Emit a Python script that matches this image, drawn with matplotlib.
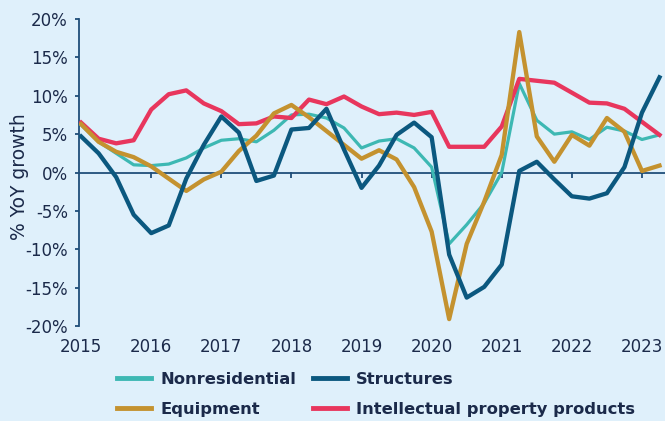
import matplotlib
matplotlib.use("Agg")
import matplotlib.pyplot as plt
from matplotlib.lines import Line2D

# Quarterly, 2015Q1 .. 2023Q2
start_year = 2015
n_quarters = 34
quarters = [start_year + i / 4 for i in range(n_quarters)]

nonresidential = [6.2, 4.0, 2.5, 1.0, 0.9, 1.1, 1.9, 3.2, 4.2, 4.4, 4.0, 5.5,
                  7.5, 7.6, 7.1, 5.8, 3.2, 4.1, 4.4, 3.2, 0.7, -9.3, -6.8, -4.0,
                  0.0, 11.6, 6.8, 5.0, 5.3, 4.3, 5.9, 5.4, 4.3, 4.9]
structures = [4.7, 2.5, -0.6, -5.5, -7.9, -6.9, -0.8, 3.6, 7.3, 5.2, -1.1, -0.4,
              5.6, 5.8, 8.3, 3.0, -2.0, 0.9, 4.9, 6.5, 4.6, -10.7, -16.3, -14.9,
              -12.0, 0.2, 1.4, -0.9, -3.1, -3.4, -2.7, 0.7, 7.8, 12.4]
equipment = [6.3, 4.0, 2.7, 2.0, 0.8, -0.8, -2.4, -0.9, 0.1, 2.8, 4.8, 7.7,
             8.8, 7.2, 5.4, 3.6, 1.8, 2.9, 1.7, -1.9, -7.7, -19.1, -9.3, -3.8,
             2.3, 18.3, 4.7, 1.4, 4.9, 3.5, 7.1, 5.3, 0.2, 0.9]
ipp = [6.5, 4.4, 3.8, 4.2, 8.2, 10.2, 10.7, 9.0, 8.0, 6.3, 6.4, 7.3,
       7.1, 9.5, 8.9, 9.9, 8.6, 7.6, 7.8, 7.5, 7.9, 3.35, 3.35, 3.35,
       6.0, 12.2, 11.95, 11.7, 10.4, 9.1, 9.0, 8.3, 6.6, 4.9]

year_ticks = list(range(2015, 2024))
y_ticks = [-20, -15, -10, -5, 0, 5, 10, 15, 20]

BG = "#DFF0FB"
TEXT = "#1B2A4A"
AXIS = "#1F4E79"
C_TEAL = "#3DB8B3"
C_NAVY = "#0B587F"
C_GOLD = "#C4922F"
C_RED = "#E8365D"

plt.rcParams['font.family'] = ['DejaVu Sans']

fig = plt.figure(figsize=(6.65, 4.21), dpi=100, facecolor=BG)
ax = fig.add_axes([79 / 665, 1 - 326 / 421, (665 - 79) / 665, (326 - 19) / 421])
ax.set_facecolor(BG)

ax.axhline(0, color=AXIS, lw=1.3, zorder=2)
ax.plot(quarters, nonresidential, color=C_TEAL, lw=2.3, zorder=3)
ax.plot(quarters, ipp, color=C_RED, lw=3.1, zorder=4)
ax.plot(quarters, equipment, color=C_GOLD, lw=3.1, zorder=5)
ax.plot(quarters, structures, color=C_NAVY, lw=3.1, zorder=6)

ax.set_xlim(2015 - 0.03, 2015 + 583 / 70)
ax.set_ylim(-20, 20)

for s in ['top', 'right', 'bottom']:
    ax.spines[s].set_visible(False)
ax.spines['left'].set_color(AXIS)
ax.spines['left'].set_linewidth(1.3)

ax.set_yticks(y_ticks)
ax.set_yticklabels([f"{v}%" for v in y_ticks])
ax.tick_params(axis='y', colors=AXIS, length=3, width=1.3, labelsize=12,
               labelcolor=TEXT, pad=5)

ax.set_xticks(year_ticks)
ax.set_xticklabels([str(y) for y in year_ticks])
ax.tick_params(axis='x', length=0, labelsize=12, labelcolor=TEXT, pad=9)

# tick marks on the zero line, pointing down
sec = ax.secondary_xaxis(0.5)
sec.set_xticks(year_ticks[1:])
sec.set_xticklabels([])
sec.tick_params(axis='x', direction='in', length=4, width=1.3, colors=AXIS)
for s in sec.spines.values():
    s.set_visible(False)

ax.set_ylabel("% YoY growth", fontsize=13.5, color=TEXT)
ax.yaxis.set_label_coords(-0.086, 0.485)

handles = [Line2D([], [], color=C_TEAL, lw=3.5),
           Line2D([], [], color=C_GOLD, lw=3.5),
           Line2D([], [], color=C_NAVY, lw=3.5),
           Line2D([], [], color=C_RED, lw=3.5)]
labels = ["Nonresidential", "Equipment", "Structures", "Intellectual property products"]
leg = fig.legend(handles, labels, ncol=2, loc='upper left',
                 bbox_to_anchor=(117 / 665, 1 - 372 / 421), frameon=False,
                 borderpad=0, borderaxespad=0,
                 handlelength=2.1, handletextpad=0.55, columnspacing=1.0,
                 labelspacing=0.9, prop={'weight': 'bold', 'size': 11.8})
for t in leg.get_texts():
    t.set_color(TEXT)

fig.savefig("out.png", dpi=100, facecolor=BG)
